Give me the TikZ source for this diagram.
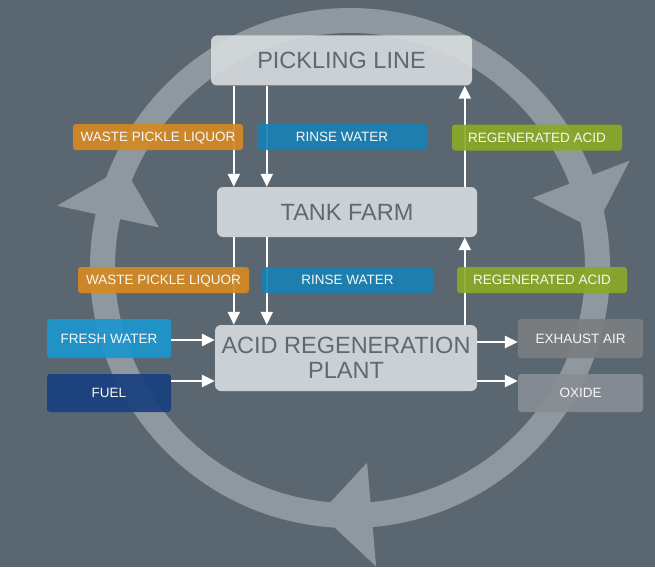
\documentclass[tikz,border=0pt]{standalone}
\usepackage{fontspec}
\setmainfont{Liberation Sans}
\usetikzlibrary{arrows.meta,calc}
\definecolor{bgc}{RGB}{91,103,112}
\definecolor{ringc}{RGB}{143,152,159}
\definecolor{boxc}{RGB}{216,220,223}
\definecolor{boxtext}{RGB}{95,105,115}
\definecolor{orangec}{RGB}{212,137,34}
\definecolor{rinsec}{RGB}{25,130,180}
\definecolor{greenc}{RGB}{138,170,38}
\definecolor{freshc}{RGB}{28,150,205}
\definecolor{fuelc}{RGB}{24,64,128}
\definecolor{exhaustc}{RGB}{122,126,130}
\definecolor{oxidec}{RGB}{136,142,148}
\begin{document}
\begin{tikzpicture}[x=1pt,y=-1pt,
  mainbox/.style={fill=boxc, fill opacity=0.9, text opacity=1, text=boxtext,
    rounded corners=6pt, inner sep=0pt, align=center,
    font=\fontsize{23.5}{25.5}\selectfont},
  lbl/.style={rounded corners=3pt, inner sep=0pt, minimum height=26pt,
    text=white!94!gray, fill opacity=0.92, text opacity=1, text depth=0pt,
    font=\fontsize{13.5}{15}\selectfont},
  flow/.style={draw=white, line width=2.5pt, -{Triangle[width=12pt,length=13pt]}}]
\fill[bgc] (0,0) rectangle (655,567);
\useasboundingbox (0,0) rectangle (655,567);
% ring
\coordinate (C) at (350,268);
\draw[ringc, line width=25pt] (C) circle[radius=247.5pt];
\foreach \t in {168,21,-85}
  \fill[ringc] ($(C)+(\t:299.5pt)$) -- ($(C)+(\t:195.5pt)$) -- ($(C)+(\t-12:247.5pt)$) -- cycle;
% main boxes
\node[mainbox, text depth=0pt, minimum width=261pt, minimum height=50pt] (pl) at (341.5,60.5) {PICKLING LINE};
\node[mainbox, text depth=0pt, minimum width=260pt, minimum height=50pt] (tf) at (347,212) {TANK FARM};
\node[mainbox, minimum width=262pt, minimum height=66pt] (arp) at (346,358) {ACID REGENERATION\\PLANT};
% connectors
\coordinate (a1) at ($(pl.south west)+(23,0)$);
\coordinate (a2) at ($(pl.south west)+(56,0)$);
\coordinate (a3) at ($(pl.south west)+(254,0)$);
\draw[flow] (a1) -- (a1 |- tf.north);
\draw[flow] (a2) -- (a2 |- tf.north);
\draw[flow] (a3 |- tf.north) -- (a3);
\coordinate (b1) at ($(tf.south west)+(17,0)$);
\coordinate (b2) at ($(tf.south west)+(50,0)$);
\coordinate (b3) at ($(tf.south west)+(248,0)$);
\draw[flow] (b1) -- (b1 |- arp.north);
\draw[flow] (b2) -- (b2 |- arp.north);
\draw[flow] (b3 |- arp.north) -- (b3);
% labels
\node[lbl, fill=orangec, minimum width=170pt] (wpl1) at (158,137) {WASTE PICKLE LIQUOR};
\node[lbl, fill=rinsec, minimum width=170pt] (rw1) at (342,137) {RINSE WATER};
\node[lbl, fill=greenc, minimum width=170pt] (ra1) at (537,137.5) {REGENERATED ACID};
\node[lbl, fill=orangec, minimum width=171pt] (wpl2) at (163.5,280) {WASTE PICKLE LIQUOR};
\node[lbl, fill=rinsec, minimum width=171pt] (rw2) at (347.5,280) {RINSE WATER};
\node[lbl, fill=greenc, minimum width=170pt] (ra2) at (542,280) {REGENERATED ACID};
\node[lbl, fill=freshc, minimum width=124pt, minimum height=39pt] (fw) at (109,338.5) {FRESH WATER};
\node[lbl, fill=fuelc, minimum width=124pt, minimum height=38pt] (fuel) at (109,393) {FUEL};
\node[lbl, fill=exhaustc, minimum width=125pt, minimum height=39pt] (ea) at (580.5,338.5) {EXHAUST AIR};
\node[lbl, fill=oxidec, minimum width=125pt, minimum height=38pt] (ox) at (580.5,393) {OXIDE};
% side connectors
\coordinate (c1) at ([yshift=-1.5pt]fw.east);
\coordinate (c2) at ([yshift=12pt]fuel.east);
\coordinate (c3) at ([yshift=-3.5pt]ea.west);
\coordinate (c4) at ([yshift=12pt]ox.west);
\draw[flow] (c1) -- (c1 -| arp.west);
\draw[flow] (c2) -- (c2 -| arp.west);
\draw[flow] (c3 -| arp.east) -- (c3);
\draw[flow] (c4 -| arp.east) -- (c4);
\end{tikzpicture}
\end{document}
